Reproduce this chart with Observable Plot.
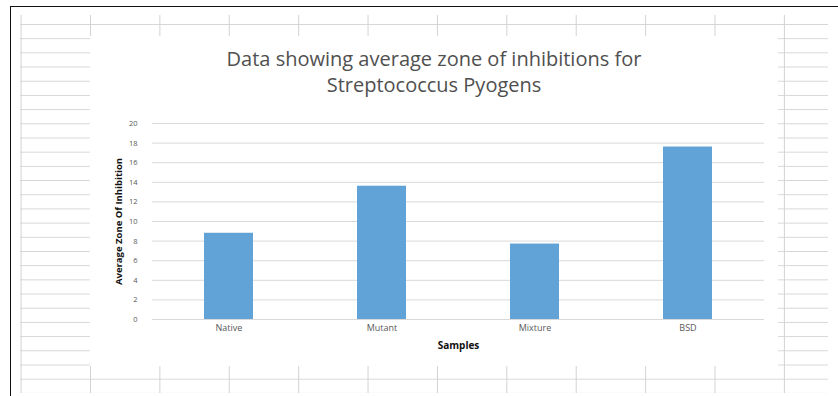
<!DOCTYPE html>
<html>
<head>
<meta charset="utf-8">
<script src="https://cdn.jsdelivr.net/npm/d3@7"></script>
<script src="https://cdn.jsdelivr.net/npm/@observablehq/plot@0.6"></script>
<style>
  html, body { margin: 0; padding: 0; background: #fff; }
  #sheet { position: relative; width: 838px; height: 396px; overflow: hidden; background: #fff; font-family: "Open Sans", sans-serif; }
  #frame { position: absolute; left: 10px; top: 6px; width: 840px; height: 400px; border-left: 1.5px solid #111; border-top: 1.5px solid #111; }
  #cells {
    position: absolute; left: 20px; top: 15px; width: 808px; height: 378px;
    background-image:
      linear-gradient(to right, #d2d2d2 0, #d2d2d2 1px, transparent 1px),
      linear-gradient(to bottom, #d6d6d6 0, #d6d6d6 1px, transparent 1px);
    background-size: 69.4px 100%, 100% 14.19px;
    background-position: 0.6px 0, 0 9px;
  }
  #chart { position: absolute; left: 90px; top: 36px; width: 688px; height: 330px; background: #fff; }
  #title { height: 64px; box-sizing: border-box; padding-top: 10px; text-align: center; color: #505050; font-size: 20px; line-height: 26px; white-space: nowrap; }
  #plot svg { display: block; }
</style>
</head>
<body>
<div id="sheet">
  <div id="frame"></div>
  <div id="cells"></div>
  <div id="chart">
    <div id="title">Data showing average zone of inhibitions for<br>Streptococcus Pyogens</div>
    <div id="plot"></div>
  </div>
</div>
<script>
// Average zone of inhibition per sample
const samples = ["Native", "Mutant", "Mixture", "BSD"];
const zones = [8.8, 13.6, 7.7, 17.6];
const yTicks = [0, 2, 4, 6, 8, 10, 12, 14, 16, 18, 20];
const xTitle = "Samples";
const yTitle = "Average Zone Of Inhibition";

const rows = samples.map((s, i) => ({sample: s, zone: zones[i]}));

const chart = Plot.plot({
  width: 688,
  height: 266,
  marginLeft: 62,
  marginRight: 14,
  marginTop: 23,
  marginBottom: 47,
  style: {fontFamily: "'Open Sans', sans-serif", fontSize: "8px", color: "#595959", background: "transparent"},
  x: {domain: samples, paddingInner: 0.68, paddingOuter: 0.34},
  y: {domain: [0, 20]},
  marks: [
    Plot.gridY(yTicks, {stroke: "#d9d9d9", strokeOpacity: 1}),
    Plot.barY(rows, {x: "sample", y: "zone", fill: "#62a3d7"}),
    Plot.axisY(yTicks, {tickSize: 0, tickPadding: 15, fontSize: 7.5, label: null}),
    Plot.axisX({tickSize: 0, tickPadding: 5, fontSize: 9, label: null}),
    Plot.text([xTitle], {frameAnchor: "bottom", dy: 29, fontWeight: "bold", fontSize: 10, fill: "#111"}),
    Plot.text([yTitle], {frameAnchor: "left", textAnchor: "middle", rotate: -90, dx: -34, fontWeight: "bold", fontSize: 9.5, fill: "#111"})
  ]
});
document.getElementById("plot").appendChild(chart);
</script>
</body>
</html>
